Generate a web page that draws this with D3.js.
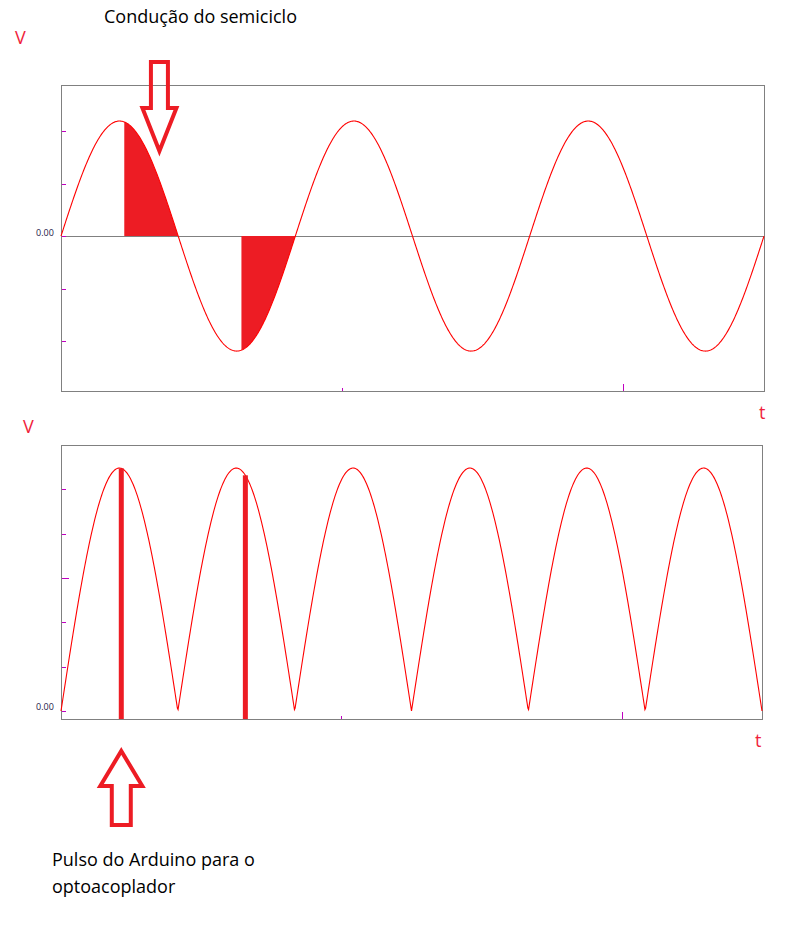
<!DOCTYPE html>
<html>
<head>
<meta charset="utf-8">
<script src="https://cdn.jsdelivr.net/npm/d3@7"></script>
<style>
  body { margin: 0; background: #fff; }
  svg { display: block; }
  text { font-family: "Open Sans", sans-serif; }
</style>
</head>
<body>
<svg id="chart" width="800" height="926"></svg>
<script>
// ---------------- data ----------------
const timeDomain = [0, 50];            // ms shown on both panels
const xTickValues = [20, 40];          // ms
const mainsFrequency = 60;             // Hz (3 periods over 50 ms)
const topPeak = 2.19;                  // amplitude in top-panel tick units
const topYDomain = [-2.95, 2.876];
const topYTicks = [-2, -1, 0, 1, 2];
const botPeak = 5.48;                  // amplitude in bottom-panel tick units
const botYDomain = [-0.18, 6.0];
const botYTicks = [0, 1, 2, 3, 4, 5];
const botMajorTicks = [3];
const firingDelay = 4.5;               // ms after each zero crossing (conduction)
const conductionHalfCycles = [0, 1];   // half-cycles shown with conduction fill
const pulseTimes = [4.3, 13.15];       // ms, Arduino pulses
const zeroLabel = "0.00";
const titleTop = "Condução do semiciclo";
const titleBottom = ["Pulso do Arduino para o", "optoacoplador"];

// ---------------- setup ----------------
const svg = d3.select("#chart");
const red = "#ff0000", fillRed = "#ed1c24", gray = "#808080", tickCol = "#c000c0", labelRed = "#f01e3c";
const period = 1000 / mainsFrequency;
const wave = t => Math.sin(2 * Math.PI * t / period);
const samples = d3.range(timeDomain[0], timeDomain[1] + 0.01, 0.05);

const xTop = d3.scaleLinear().domain(timeDomain).range([61, 764]);
const yTop = d3.scaleLinear().domain(topYDomain).range([391, 85]);
const xBot = d3.scaleLinear().domain(timeDomain).range([61, 762]);
const yBot = d3.scaleLinear().domain(botYDomain).range([719, 445]);

function frame(x, y) {
  const [x0, x1] = x.range(), [y1, y0] = y.range();
  svg.append("rect").attr("x", x0 + 0.5).attr("y", y0 + 0.5)
    .attr("width", x1 - x0).attr("height", y1 - y0)
    .attr("fill", "none").attr("stroke", gray).attr("stroke-width", 1);
}
function yTicks(x, y, ticks, majors) {
  const x0 = x.range()[0];
  svg.append("g").selectAll("line").data(ticks).join("line")
    .attr("x1", x0 + 1).attr("x2", d => x0 + 1 + (majors.includes(d) ? 7 : 4))
    .attr("y1", d => Math.round(y(d)) + 0.5).attr("y2", d => Math.round(y(d)) + 0.5)
    .attr("stroke", tickCol).attr("stroke-width", 1);
}
function xTicks(x, y) {
  const yb = y.range()[0];
  svg.append("g").selectAll("line").data(xTickValues).join("line")
    .attr("x1", d => Math.round(x(d)) + 0.5).attr("x2", d => Math.round(x(d)) + 0.5)
    .attr("y1", yb).attr("y2", (d, i) => yb - (i === 0 ? 3 : 7))
    .attr("stroke", tickCol).attr("stroke-width", 1);
}

// ---------------- top panel ----------------
frame(xTop, yTop);
svg.append("line").attr("x1", xTop.range()[0]).attr("x2", xTop.range()[1])
  .attr("y1", Math.round(yTop(0)) + 0.5).attr("y2", Math.round(yTop(0)) + 0.5)
  .attr("stroke", gray).attr("stroke-width", 1);
yTicks(xTop, yTop, topYTicks, []);
xTicks(xTop, yTop);

const area = d3.area().x(d => xTop(d)).y0(yTop(0)).y1(d => yTop(topPeak * wave(d)));
conductionHalfCycles.forEach(k => {
  const t0 = k * period / 2 + firingDelay, t1 = (k + 1) * period / 2;
  const pts = d3.range(t0, t1, 0.02).concat([t1]);
  svg.append("path").datum(pts).attr("d", area).attr("fill", fillRed);
});

svg.append("path").datum(samples)
  .attr("d", d3.line().x(d => xTop(d)).y(d => yTop(topPeak * wave(d))))
  .attr("fill", "none").attr("stroke", red).attr("stroke-width", 1.1);

svg.append("text").attr("x", 36).attr("y", Math.round(yTop(0)))
  .attr("font-size", 9).attr("fill", "#1c2048").text(zeroLabel);

// ---------------- bottom panel ----------------
frame(xBot, yBot);
yTicks(xBot, yBot, botYTicks, botMajorTicks);
xTicks(xBot, yBot);

svg.append("path").datum(samples)
  .attr("d", d3.line().x(d => xBot(d)).y(d => yBot(botPeak * Math.abs(wave(d)))))
  .attr("fill", "none").attr("stroke", red).attr("stroke-width", 1.1);

svg.append("g").selectAll("rect").data(pulseTimes).join("rect")
  .attr("x", d => xBot(d) - 2.5).attr("width", 5)
  .attr("y", d => yBot(botPeak * Math.abs(wave(d))))
  .attr("height", d => yBot.range()[0] - yBot(botPeak * Math.abs(wave(d))))
  .attr("fill", fillRed);

svg.append("text").attr("x", 36).attr("y", Math.round(yBot(0)) - 1)
  .attr("font-size", 9).attr("fill", "#1c2048").text(zeroLabel);

// ---------------- axis letters ----------------
const letters = [
  { t: "V", x: 15, y: 44 }, { t: "t", x: 759, y: 419 },
  { t: "V", x: 23, y: 433 }, { t: "t", x: 755, y: 747 }
];
svg.append("g").selectAll("text").data(letters).join("text")
  .attr("x", d => d.x).attr("y", d => d.y).attr("font-size", 18)
  .attr("fill", labelRed).text(d => d.t);

// ---------------- annotations ----------------
svg.append("text").attr("x", 104).attr("y", 23).attr("font-size", 18)
  .attr("fill", "#000").text(titleTop);
svg.append("g").selectAll("text").data(titleBottom).join("text")
  .attr("x", 52).attr("y", (d, i) => 866 + i * 27).attr("font-size", 18)
  .attr("fill", "#000").text(d => d);

// down arrow (above first conduction region)
const dx = xTop(7.0);
const downArrow = [[-8.5, 62], [8.5, 62], [8.5, 108], [17, 108], [0, 151], [-17, 108], [-8.5, 108]];
svg.append("polygon").attr("points", downArrow.map(p => [dx + p[0], p[1]].join(",")).join(" "))
  .attr("fill", "none").attr("stroke", fillRed).attr("stroke-width", 4).attr("stroke-linejoin", "miter");

// up arrow (under first pulse)
const ux = xBot(pulseTimes[0]);
const upArrow = [[0, 751], [21, 786], [9.5, 786], [9.5, 825], [-9.5, 825], [-9.5, 786], [-21, 786]];
svg.append("polygon").attr("points", upArrow.map(p => [ux + p[0], p[1]].join(",")).join(" "))
  .attr("fill", "none").attr("stroke", fillRed).attr("stroke-width", 4).attr("stroke-linejoin", "miter");
</script>
</body>
</html>
